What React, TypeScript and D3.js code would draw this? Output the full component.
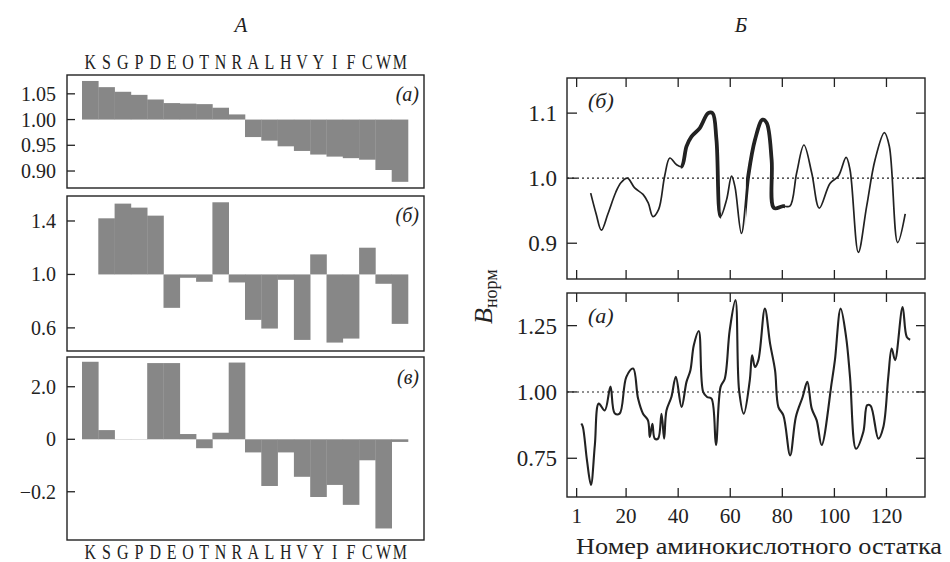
import React from 'react';
import * as d3 from 'd3';

// ---------- data ----------
const letters = "KSGPDEOTNRALHVYIFCWM".split("");
const scaleA = [1.075, 1.063, 1.054, 1.048, 1.039, 1.032, 1.031, 1.030, 1.023, 1.010, 0.966, 0.959, 0.948, 0.939, 0.932, 0.928, 0.925, 0.922, 0.902, 0.879];
const scaleB = [1.0, 1.42, 1.53, 1.50, 1.44, 0.75, 0.975, 0.945, 1.54, 0.94, 0.66, 0.595, 0.96, 0.51, 1.15, 0.49, 0.52, 1.20, 0.93, 0.63];
const scaleV = [2.95, 0.35, 0.01, 0.01, 2.9, 2.9, 0.2, -0.034, 0.25, 2.92, -0.05, -0.178, -0.05, -0.143, -0.22, -0.174, -0.25, -0.08, -0.34, -0.01];

const ticksA = [1.05, 1.0, 0.95, 0.9];
const ticksB = [1.4, 1.0, 0.6];
const ticksV = [2.0, 0, -0.2];
const ticksVLabels = ["2.0", "0", "\u22120.2"];

const residueTicks = [1, 20, 40, 60, 80, 100, 120];
const ticksTop = [1.1, 1.0, 0.9];
const ticksBottom = [1.25, 1.0, 0.75];

// profile (б): [residue, value]
const profileB: [number, number][] = [
  [6.4, 0.977], [8.5, 0.945], [10.5, 0.920], [13, 0.945], [16, 0.978], [18, 0.993], [20.5, 1.0], [23.3, 0.985],
  [26.5, 0.975], [28.5, 0.962], [30.3, 0.941], [32.5, 0.952], [34.8, 1.003], [36.8, 1.031], [39.3, 1.021],
  [41.3, 1.018], [43.2, 1.049], [45.1, 1.064], [48.3, 1.077], [51.5, 1.10], [53.2, 1.10], [54.7, 1.059],
  [56.3, 0.941], [58.6, 0.967], [60.5, 1.003], [61.8, 0.987], [64.3, 0.915], [66.9, 1.003], [69.5, 1.059],
  [72.4, 1.090], [74, 1.085], [75.9, 1.028], [76.8, 0.954], [80.3, 0.957], [82.9, 0.957], [85.5, 1.008],
  [88.3, 1.051], [91.3, 1.008], [94.2, 0.954], [98.3, 0.992], [101.5, 1.003], [104.5, 1.032], [106, 1.013],
  [109.2, 0.886], [112.4, 0.957], [115.6, 1.028], [119.2, 1.070], [121.1, 1.049], [124.3, 0.901], [127.2, 0.945]
];
const thickRanges: [number, number][] = [[41, 56.5], [66, 81]];

// profile (а): [residue, value]
const profileA: [number, number][] = [
  [2.8, 0.881], [3.4, 0.868], [5, 0.74], [6.5, 0.65], [8, 0.80], [9.5, 0.956], [11.8, 0.93], [14, 1.02],
  [15.6, 0.92], [17.5, 0.918], [20.1, 1.057], [22.7, 1.088], [24.6, 0.975], [26.5, 0.918], [28.4, 0.893],
  [29.1, 0.83], [30.1, 0.88], [31, 0.824], [32.3, 0.824], [33.6, 0.918], [34.6, 0.824], [35.5, 0.93],
  [37.4, 0.981], [39.1, 1.057], [41.3, 0.943], [43.2, 1.038], [44.7, 1.082], [46, 1.176], [47.9, 1.23],
  [49.6, 1.0], [51.1, 0.981], [52.8, 0.975], [54.5, 0.80], [56.3, 1.019], [57.9, 1.05], [59.8, 1.233],
  [62, 1.346], [63.4, 1.006], [65.2, 0.918], [67.5, 1.044], [68.4, 1.138], [69.5, 1.094], [70.8, 1.12],
  [73.3, 1.314], [75.3, 1.182], [77.2, 1.082], [78.5, 0.943], [80.4, 0.912], [83, 0.761], [85.2, 0.906],
  [87.8, 0.981], [89.6, 1.038], [91.3, 0.937], [93.2, 0.893], [95.1, 0.80], [99, 1.038], [100.2, 1.12],
  [102.4, 1.314], [104.5, 1.207], [106, 1.057], [108.3, 0.786], [111.1, 0.849], [112.6, 0.95], [113.9, 0.948],
  [116.9, 0.824], [118.8, 0.868], [120.7, 1.057], [122, 1.164], [123.3, 1.12], [126.2, 1.32], [127.8, 1.207],
  [129.1, 1.197]
];

// ---------- layout ----------
const W = 950, H = 562;
const SERIF = '"Liberation Serif", "Times New Roman", "DejaVu Serif", "Noto Serif", serif';
const GRAY = "#878787";
const INK = "#222";

const LX0 = 67, LX1 = 424;
const band = d3.scaleBand<string>().domain(letters).range([82, 408]).padding(0);

const leftPanels = [
  { key: "a", top: 75, bottom: 188, y: d3.scaleLinear().domain([0.867, 1.0866]).range([188, 75]), base: 1.0, vals: scaleA, ticks: ticksA, labels: ticksA.map(t => t.toFixed(2)), tag: "(а)", tagY: 101 },
  { key: "b", top: 196, bottom: 351, y: d3.scaleLinear().domain([0.427, 1.587]).range([351, 196]), base: 1.0, vals: scaleB, ticks: ticksB, labels: ticksB.map(t => t.toFixed(1)), tag: "(б)", tagY: 222 },
  { key: "v", top: 357, bottom: 540, y: d3.scaleLinear().domain([-0.384, 0, 3.12]).range([540, 439.3, 357.3]), base: 0, vals: scaleV, ticks: ticksV, labels: ticksVLabels, tag: "(в)", tagY: 384 },
];

const RX0 = 567, RX1 = 925;
const xR = d3.scaleLinear().domain([-2.7, 134.8]).range([RX0, RX1]);
const rightPanels = [
  { key: "top", top: 78, bottom: 279, y: d3.scaleLinear().domain([0.845, 1.154]).range([279, 78]), data: profileB, ticks: ticksTop, labels: ticksTop.map(t => t.toFixed(1)), tag: "(б)", tagY: 108 },
  { key: "bot", top: 293, bottom: 497, y: d3.scaleLinear().domain([0.604, 1.373]).range([497, 293]), data: profileA, ticks: ticksBottom, labels: ticksBottom.map(t => t.toFixed(2)), tag: "(а)", tagY: 323 },
];

function LetterRow({ y }: { y: number }) {
  return (
    <g>
      {letters.map(l => (
        <text key={l} transform={`translate(${(band(l) as number) + band.bandwidth() / 2},${y}) scale(0.8,1)`} fontSize={20} textAnchor="middle" fill={INK}>{l}</text>
      ))}
    </g>
  );
}

export default function App() {
  return (
    <svg width={W} height={H} style={{ position: 'absolute', left: 0, top: 0, background: '#fff', fontFamily: SERIF }}>
      <rect x={0} y={0} width={W} height={H} fill="#fff" />
      {/* headers */}
      <text x={241} y={32} fontSize={21} fontStyle="italic" textAnchor="middle" fill={INK}>A</text>
      <text x={741} y={32} fontSize={21} fontStyle="italic" textAnchor="middle" fill={INK}>Б</text>

      {/* amino acid letters */}
      <LetterRow y={69} />
      <LetterRow y={559} />

      {/* left panels */}
      {leftPanels.map(p => (
        <g key={p.key}>
          {p.vals.map((v, i) => {
            const x = band(letters[i]) as number;
            const y0 = p.y(p.base), y1 = p.y(v);
            return <rect key={i} x={x} y={Math.min(y0, y1)} width={band.bandwidth() + 0.3} height={Math.abs(y1 - y0)} fill={GRAY} />;
          })}
          <rect x={LX0} y={p.top} width={LX1 - LX0} height={p.bottom - p.top} fill="none" stroke={INK} strokeWidth={1.4} />
          {p.ticks.map((t, i) => (
            <g key={i}>
              <line x1={LX0} x2={LX0 + 8} y1={p.y(t)} y2={p.y(t)} stroke={INK} strokeWidth={1.3} />
              <text x={56} y={p.y(t)} dy="0.35em" fontSize={20} textAnchor="end" fill={INK}>{p.labels[i]}</text>
            </g>
          ))}
          <text x={419} y={p.tagY} fontSize={20} fontStyle="italic" textAnchor="end" fill={INK}>{p.tag}</text>
        </g>
      ))}

      {/* right panels */}
      <defs>
        {thickRanges.map((r, i) => (
          <clipPath key={i} id={"thick" + i}>
            <rect x={xR(r[0])} y={0} width={xR(r[1]) - xR(r[0])} height={H} />
          </clipPath>
        ))}
      </defs>
      {rightPanels.map(p => {
        const line = d3.line<[number, number]>().x(d => xR(d[0])).y(d => p.y(d[1])).curve(d3.curveCatmullRom.alpha(0.5));
        const path = line(p.data) || "";
        return (
          <g key={p.key}>
            <line x1={RX0} x2={RX1} y1={p.y(1.0)} y2={p.y(1.0)} stroke={INK} strokeWidth={1.1} strokeDasharray="2,3" />
            <path d={path} fill="none" stroke={INK} strokeWidth={p.key === "top" ? 1.7 : 2.1} strokeLinejoin="round" />
            {p.key === "top" && thickRanges.map((r, i) => (
              <path key={i} d={path} fill="none" stroke={INK} strokeWidth={3.8} strokeLinejoin="round" clipPath={`url(#thick${i})`} />
            ))}
            <rect x={RX0} y={p.top} width={RX1 - RX0} height={p.bottom - p.top} fill="none" stroke={INK} strokeWidth={1.4} />
            {p.ticks.map((t, i) => (
              <g key={i}>
                <line x1={RX0} x2={RX0 + 10} y1={p.y(t)} y2={p.y(t)} stroke={INK} strokeWidth={1.3} />
                <line x1={RX1 - 9} x2={RX1} y1={p.y(t)} y2={p.y(t)} stroke={INK} strokeWidth={1.3} />
                <text x={557} y={p.y(t)} dy="0.35em" fontSize={23} textAnchor="end" fill={INK}>{p.labels[i]}</text>
              </g>
            ))}
            {residueTicks.map(t => (
              <g key={t}>
                <line x1={xR(t)} x2={xR(t)} y1={p.top} y2={p.top + 9} stroke={INK} strokeWidth={1.3} />
                <line x1={xR(t)} x2={xR(t)} y1={p.bottom - 9} y2={p.bottom} stroke={INK} strokeWidth={1.3} />
              </g>
            ))}
            <text x={588} y={p.tagY} fontSize={22} fontStyle="italic" fill={INK}>{p.tag}</text>
          </g>
        );
      })}
      {residueTicks.map(t => (
        <text key={t} x={xR(t)} y={516} dy="0.35em" fontSize={21} textAnchor="middle" fill={INK}>{t}</text>
      ))}
      <text x={759} y={554} fontSize={23} textAnchor="middle" textLength={366} lengthAdjust="spacingAndGlyphs" fill={INK}>Номер аминокислотного остатка</text>
      <text transform="translate(492,324) rotate(-90)" textAnchor="start" fill={INK}>
        <tspan fontSize={26} fontStyle="italic">B</tspan>
        <tspan fontSize={18} dy="5">норм</tspan>
      </text>
    </svg>
  );
}
